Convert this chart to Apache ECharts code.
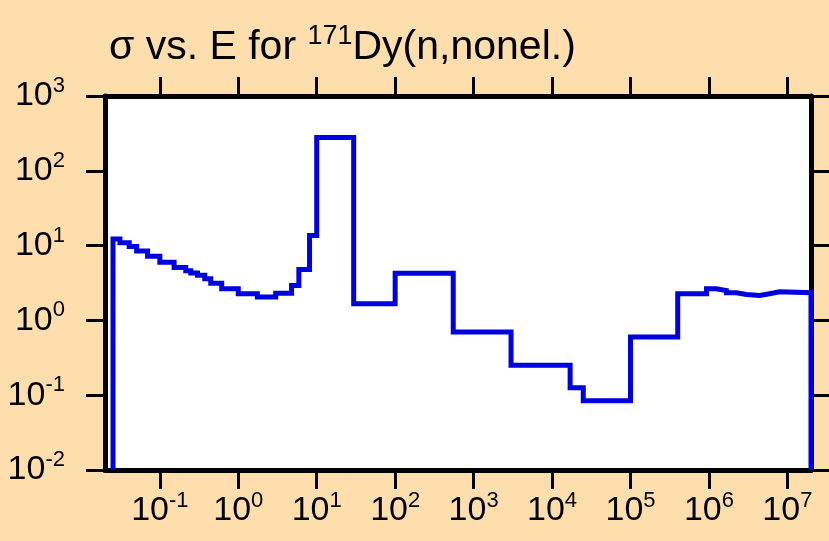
<!DOCTYPE html>
<html>
<head>
<meta charset="utf-8">
<script src="https://cdn.jsdelivr.net/npm/echarts@6/dist/echarts.min.js"></script>
<style>
  html, body { margin: 0; padding: 0; background: #ffdead; }
  #chart { width: 829px; height: 541px; }
</style>
</head>
<body>
<div id="chart"></div>
<script>
// Group-wise cross section: lower bin edges (eV) and sigma (b) held across each bin
const binEdges = [0.0253, 0.031, 0.0407, 0.0506, 0.0698, 0.1, 0.152, 0.214, 0.248, 0.302,
  0.374, 0.446, 0.615, 1.0, 1.75, 3.0, 4.78, 5.92, 8.1, 10, 29.6, 100, 550, 3000, 17000,
  25000, 1e5, 4e5, 9.3e5, 1.24e6, 1.67e6, 2.24e6, 3e6, 4.43e6, 5.94e6, 7.96e6, 2e7];
const sigma = [12.3, 10.9, 9.7, 8.5, 7.2, 6.0, 5.1, 4.6, 4.3, 4.0,
  3.6, 3.14, 2.65, 2.27, 2.05, 2.31, 2.93, 4.8, 13.6, 278, 1.67, 4.28, 0.70, 0.251, 0.126,
  0.084, 0.6, 2.27, 2.65, 2.51, 2.34, 2.22, 2.15, 2.27, 2.41, 2.34];

// Decade exponents used for the tick marks and labels
const xTickExps = [-1, 0, 1, 2, 3, 4, 5, 6, 7];
const yTickExps = [-2, -1, 0, 1, 2, 3];

const xMin = 0.02, xMax = 2e7;
const yMin = 0.01, yMax = 1000;

const FONT = '"Liberation Sans", Arial, Helvetica, sans-serif';
const INK = '#000';

// Histogram outline: rises from the floor at the first edge, drops back at the last
const stepData = [[binEdges[0], yMin]];
for (let i = 0; i < sigma.length; i++) stepData.push([binEdges[i], sigma[i]]);
stepData.push([binEdges[binEdges.length - 1], sigma[sigma.length - 1]]);
stepData.push([binEdges[binEdges.length - 1], yMin]);

const xTicks = xTickExps.map(e => Math.pow(10, e));
const yTicks = yTickExps.map(e => Math.pow(10, e));

function powLabel(v) {
  const e = Math.round(Math.log10(v));
  return '{b|10}{s|' + e + '}';
}
const labelRich = {
  b: { fontSize: 34, lineHeight: 34, fontFamily: FONT, color: INK, verticalAlign: 'bottom' },
  s: { fontSize: 22, lineHeight: 22, fontFamily: FONT, color: INK, verticalAlign: 'bottom', padding: [0, 0, 16, 0] }
};

const tickStyle = { show: true, inside: false, length: 19, lineStyle: { color: INK, width: 3 } };
const frameLine = { show: true, lineStyle: { color: INK, width: 5 } };

function xAx(pos, withLabels) {
  return {
    type: 'log', logBase: 10, position: pos, min: xMin, max: xMax,
    axisLine: frameLine,
    axisTick: Object.assign({ customValues: xTicks }, tickStyle),
    axisLabel: withLabels ? {
      show: true, customValues: xTicks, formatter: powLabel, margin: 24, rich: labelRich
    } : { show: false },
    splitLine: { show: false }, minorTick: { show: false }
  };
}
function yAx(pos, withLabels) {
  return {
    type: 'log', logBase: 10, position: pos, min: yMin, max: yMax,
    axisLine: frameLine,
    axisTick: Object.assign({ customValues: yTicks }, tickStyle),
    axisLabel: withLabels ? {
      show: true, customValues: yTicks, formatter: powLabel, margin: 40, rich: labelRich
    } : { show: false },
    splitLine: { show: false }, minorTick: { show: false }
  };
}

const chart = echarts.init(document.getElementById('chart'), null, { renderer: 'canvas' });
chart.setOption({
  backgroundColor: '#ffdead',
  animation: false,
  title: {
    text: '{a|σ vs. E for }{s|171}{a|Dy(n,nonel.)}',
    left: 104, top: 22,
    textStyle: {
      fontWeight: 'normal',
      rich: {
        a: { fontSize: 41, lineHeight: 41, fontFamily: FONT, fontWeight: 'normal', color: INK, verticalAlign: 'bottom' },
        s: { fontSize: 27, lineHeight: 27, fontFamily: FONT, fontWeight: 'normal', color: INK, verticalAlign: 'bottom', padding: [0, 0, 18, 0] }
      }
    }
  },
  grid: { left: 105, right: 18, top: 96, bottom: 71, show: true, backgroundColor: '#fff', borderWidth: 0 },
  xAxis: [xAx('bottom', true), xAx('top', false)],
  yAxis: [yAx('left', true), yAx('right', false)],
  series: [{
    type: 'line',
    xAxisIndex: 0, yAxisIndex: 0,
    step: 'end',
    showSymbol: false,
    data: stepData,
    lineStyle: { color: '#0000e0', width: 5, join: 'miter' },
    z: 1
  }]
});
</script>
</body>
</html>
